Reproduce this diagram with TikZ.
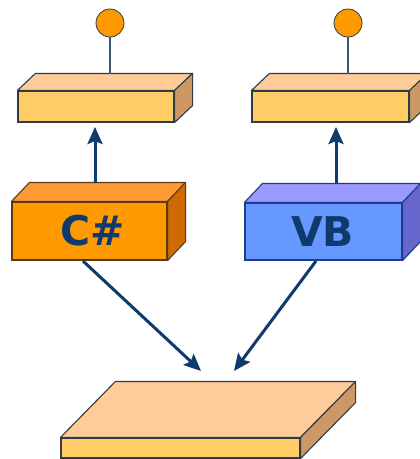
\documentclass[tikz,border=0pt]{standalone}
\usepackage{fontspec}
\newfontfamily\labelfont{DejaVu Sans}
\usetikzlibrary{arrows.meta}
\definecolor{pfront}{HTML}{FFCC66}
\definecolor{ptop}{HTML}{FFCC99}
\definecolor{pside}{HTML}{CC9966}
\definecolor{ofront}{HTML}{FF9900}
\definecolor{otop}{HTML}{FF9933}
\definecolor{oside}{HTML}{D06A00}
\definecolor{bfront}{HTML}{6699FF}
\definecolor{btop}{HTML}{9999FF}
\definecolor{bside}{HTML}{6666CC}
\definecolor{edgegray}{HTML}{2E3B48}
\definecolor{edgebrown}{HTML}{5A3A12}
\definecolor{edgeblue}{HTML}{1F3C8C}
\definecolor{navy}{HTML}{0E3A6E}
\definecolor{stem}{HTML}{3A5775}
\tikzset{
  frontface/.style={draw, line width=1.1pt, inner sep=0pt, minimum width=#1},
  lbl/.style={font=\labelfont\bfseries\fontsize{41}{41}\selectfont, text=navy},
  link/.style={draw=navy, line width=3pt, -{Stealth[length=17pt,width=15pt,inset=3pt]}},
  knob/.style={circle, draw=edgegray, fill=ofront, line width=0.8pt, minimum size=28pt, inner sep=0pt},
  stemline/.style={draw=stem, line width=1.2pt},
}
% #1 node name, #2 dx, #3 dy, #4 top colour, #5 side colour, #6 edge colour
\newcommand\slabfaces[6]{%
  \filldraw[fill=#4, draw=#6, line width=1.1pt, line join=round]
    (#1.north west) -- ++(#2,#3) -- ([shift={(#2,#3)}]#1.north east) -- (#1.north east) -- cycle;
  \filldraw[fill=#5, draw=#6, line width=1.1pt, line join=round]
    (#1.north east) -- ++(#2,#3) -- ([shift={(#2,#3)}]#1.south east) -- (#1.south east) -- cycle;
}
\begin{document}
\begin{tikzpicture}[x=1pt,y=-1pt]
\useasboundingbox (0,0) rectangle (420,459);
\clip (0,0) rectangle (420,459);
\fill[white] (0,0) rectangle (420,459);

% top slabs
\node[frontface=156pt, minimum height=31pt, fill=pfront, draw=edgegray] (tl) at (96,106.5) {};
\slabfaces{tl}{18}{-17}{ptop}{pside}{edgegray}
\node[frontface=157pt, minimum height=31pt, fill=pfront, draw=edgegray] (tr) at (330.5,106.5) {};
\slabfaces{tr}{18}{-17}{ptop}{pside}{edgegray}

% knobs
\coordinate (tlstem) at (110,74);
\coordinate (trstem) at (348,74);
\node[knob] (kl) at (110,23) {};
\node[knob] (kr) at (348,23) {};
\draw[stemline] (kl.south) -- (tlstem);
\draw[stemline] (kr.south) -- (trstem);

% language boxes
\node[frontface=155pt, minimum height=58pt, fill=ofront, draw=edgebrown] (cs) at (89.5,231) {};
\slabfaces{cs}{18}{-19}{otop}{oside}{edgebrown}
\node[lbl] (cstext) at (92.5,231) {C\#};
\node[frontface=157pt, minimum height=57pt, fill=bfront, draw=edgeblue] (vb) at (323.5,231.5) {};
\slabfaces{vb}{18}{-19}{btop}{bside}{edgeblue}
\node[lbl] (vbtext) at (322.5,231.5) {VB};

% bottom slab
\node[frontface=239pt, minimum height=20pt, fill=pfront, draw=edgegray] (base) at (180.5,448) {};
\slabfaces{base}{55}{-56}{ptop}{pside}{edgegray}

% connectors
\coordinate (csup) at (95,183);
\coordinate (tlin) at (95,127);
\coordinate (vbup) at (336,183);
\coordinate (trin) at (336,127);
\coordinate (csdn) at (83,261);
\coordinate (basel) at (201,371);
\coordinate (vbdn) at (316,261);
\coordinate (baser) at (234,371);
\draw[link] (csup) -- (tlin);
\draw[link] (vbup) -- (trin);
\draw[link] (csdn) -- (basel);
\draw[link] (vbdn) -- (baser);
\end{tikzpicture}
\end{document}
